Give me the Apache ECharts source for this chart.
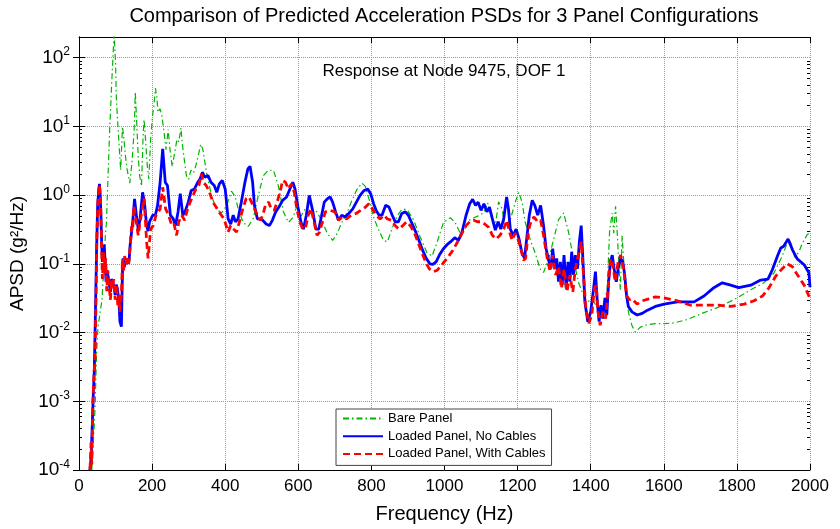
<!DOCTYPE html>
<html>
<head>
<meta charset="utf-8">
<script src="https://cdn.jsdelivr.net/npm/echarts@6/dist/echarts.min.js"></script>
<style>
  html, body { margin: 0; padding: 0; background: #fff; }
  #chart { width: 840px; height: 529px; }
</style>
</head>
<body>
<div id="chart"></div>
<script>
// Bare Panel
const bareFreq = [35, 40, 44, 48, 52, 58, 63, 68, 72, 75, 80, 84, 89, 93, 96, 100, 102, 107, 114, 119, 123, 127, 132, 139, 145, 151, 154, 158, 162, 166, 171, 175, 178, 182, 187, 191, 196, 201, 205, 209, 213, 216, 222, 227, 233, 238, 244, 249, 255, 262, 268, 273, 279, 282, 288, 294, 300, 306, 313, 319, 326, 333, 339, 349, 363, 376, 390, 404, 417, 427, 436, 449, 463, 477, 490, 504, 518, 532, 545, 559, 573, 586, 596, 607, 618, 632, 650, 664, 679, 694, 707, 719, 733, 746, 760, 774, 783, 795, 805, 819, 833, 844, 856, 870, 883, 897, 915, 933, 952, 966, 979, 997, 1016, 1029, 1043, 1057, 1070, 1089, 1107, 1118, 1127, 1139, 1148, 1157, 1166, 1180, 1194, 1203, 1212, 1221, 1235, 1248, 1262, 1271, 1285, 1298, 1312, 1326, 1340, 1353, 1367, 1381, 1390, 1404, 1417, 1431, 1445, 1452, 1459, 1463, 1468, 1472, 1477, 1481, 1486, 1490, 1495, 1504, 1513, 1522, 1536, 1554, 1577, 1601, 1628, 1664, 1710, 1755, 1801, 1838, 1874, 1901, 1924, 1942, 1952, 1958, 1970, 1979, 1993, 2000];
const bareApsd = [1e-4, 3e-4, 8e-4, 0.005, 0.012, 0.02, 0.03, 0.1, 0.25, 0.4, 2.3, 9, 38, 105, 230, 85, 27, 9, 2.3, 10, 6.5, 3.7, 2.3, 1.5, 3, 9, 32, 11, 3.7, 1.9, 1.35, 6.5, 12.6, 6.5, 2.6, 1.7, 6.5, 14, 20, 36, 27, 16, 18, 14, 8, 4.6, 9, 4.6, 2.6, 4.2, 6.5, 6, 9.5, 6, 3.3, 1.9, 1.7, 2.3, 2.1, 2.6, 3.7, 5.5, 4.6, 2.1, 0.96, 0.62, 0.55, 0.7, 1.14, 0.96, 0.62, 0.4, 0.35, 0.46, 0.96, 1.9, 2.3, 2.3, 1.4, 0.58, 0.4, 0.48, 0.69, 0.49, 0.62, 0.55, 0.58, 0.43, 0.28, 0.22, 0.28, 0.4, 0.55, 0.82, 1.2, 1.5, 1.35, 0.82, 0.49, 0.32, 0.22, 0.21, 0.32, 0.49, 0.62, 0.62, 0.44, 0.25, 0.145, 0.13, 0.2, 0.4, 0.47, 0.4, 0.28, 0.33, 0.44, 0.49, 0.55, 0.77, 0.5, 0.36, 0.8, 0.64, 0.36, 0.44, 0.8, 1.1, 0.8, 0.4, 0.22, 0.145, 0.083, 0.075, 0.12, 0.22, 0.44, 0.55, 0.28, 0.115, 0.053, 0.034, 0.028, 0.03, 0.024, 0.019, 0.042, 0.32, 0.55, 0.28, 0.69, 0.32, 0.1, 0.042, 0.26, 0.25, 0.042, 0.019, 0.0126, 0.0102, 0.012, 0.013, 0.0135, 0.0135, 0.0138, 0.0155, 0.0195, 0.024, 0.032, 0.042, 0.053, 0.073, 0.13, 0.23, 0.18, 0.124, 0.15, 0.2, 0.27, 0.28];

// Loaded Panel, No Cables
const noCableFreq = [30, 33, 36, 39, 42, 45, 48, 51, 54, 56, 58, 60, 62, 64, 67, 69, 72, 74, 77, 79, 83, 86, 89, 92, 96, 99, 102, 105, 109, 112, 116, 119, 121, 124, 127, 131, 134, 137, 140, 144, 147, 152, 157, 162, 167, 174, 179, 185, 189, 193, 202, 209, 215, 222, 229, 236, 242, 250, 258, 264, 271, 277, 284, 290, 299, 307, 316, 325, 331, 338, 344, 353, 361, 370, 377, 384, 392, 400, 408, 415, 422, 428, 435, 444, 454, 462, 468, 475, 480, 488, 496, 503, 512, 521, 529, 538, 547, 557, 568, 577, 585, 591, 599, 607, 614, 622, 630, 635, 640, 648, 656, 663, 671, 679, 687, 694, 702, 710, 719, 728, 738, 749, 759, 769, 780, 790, 798, 806, 813, 821, 829, 839, 848, 857, 865, 874, 883, 893, 901, 909, 919, 930, 940, 950, 960, 968, 977, 986, 997, 1007, 1017, 1028, 1038, 1048, 1059, 1069, 1077, 1085, 1092, 1100, 1108, 1116, 1123, 1131, 1139, 1147, 1154, 1162, 1170, 1175, 1180, 1188, 1196, 1204, 1211, 1219, 1224, 1232, 1240, 1247, 1255, 1263, 1271, 1278, 1286, 1291, 1296, 1302, 1307, 1312, 1317, 1322, 1327, 1333, 1338, 1343, 1348, 1353, 1358, 1364, 1369, 1374, 1379, 1384, 1392, 1400, 1408, 1413, 1418, 1423, 1428, 1433, 1439, 1444, 1449, 1454, 1459, 1464, 1470, 1475, 1482, 1488, 1493, 1498, 1503, 1513, 1527, 1541, 1554, 1577, 1601, 1637, 1683, 1710, 1737, 1760, 1783, 1805, 1838, 1865, 1885, 1897, 1911, 1920, 1928, 1940, 1952, 1965, 1984, 1997, 2000];
const noCableApsd = [1e-4, 1.5e-4, 4e-4, 1.2e-3, 3e-3, 0.02, 0.15, 0.7, 1.2, 1.46, 1.0, 0.51, 0.2, 0.107, 0.16, 0.19, 0.09, 0.055, 0.08, 0.069, 0.05, 0.039, 0.06, 0.055, 0.045, 0.035, 0.05, 0.044, 0.03, 0.0144, 0.0122, 0.08, 0.12, 0.09, 0.107, 0.1, 0.12, 0.11, 0.19, 0.3, 0.41, 0.88, 0.51, 0.32, 0.45, 1.1, 0.79, 0.36, 0.3, 0.41, 0.51, 0.51, 0.71, 1.54, 4.7, 1.54, 1.38, 0.51, 0.45, 0.36, 0.57, 1.05, 0.51, 0.57, 0.79, 1.17, 1.23, 1.54, 1.72, 2.15, 1.82, 1.93, 1.54, 1.38, 1.1, 1.46, 1.63, 1.23, 0.45, 0.38, 0.51, 0.41, 0.45, 0.79, 1.54, 2.4, 2.63, 1.54, 0.71, 0.45, 0.45, 0.43, 0.38, 0.36, 0.43, 0.57, 0.67, 0.84, 0.94, 1.23, 1.54, 1.23, 0.67, 0.41, 0.32, 0.51, 0.99, 1.05, 0.57, 0.32, 0.32, 0.48, 0.79, 0.88, 0.94, 0.79, 0.57, 0.43, 0.51, 0.48, 0.54, 0.63, 0.79, 0.99, 1.17, 1.23, 1.05, 0.75, 0.6, 0.51, 0.51, 0.71, 0.67, 0.51, 0.41, 0.41, 0.54, 0.57, 0.51, 0.41, 0.31, 0.22, 0.158, 0.12, 0.1, 0.098, 0.107, 0.134, 0.166, 0.19, 0.21, 0.24, 0.22, 0.29, 0.51, 0.75, 0.87, 0.71, 0.79, 0.6, 0.75, 0.57, 0.67, 0.45, 0.31, 0.41, 0.32, 0.45, 0.94, 0.63, 0.32, 0.26, 0.32, 0.23, 0.15, 0.12, 0.21, 0.51, 0.84, 0.71, 0.51, 0.71, 0.36, 0.166, 0.107, 0.085, 0.166, 0.085, 0.12, 0.055, 0.107, 0.049, 0.134, 0.044, 0.107, 0.055, 0.15, 0.069, 0.134, 0.085, 0.21, 0.36, 0.107, 0.028, 0.0144, 0.02, 0.044, 0.077, 0.028, 0.0144, 0.025, 0.016, 0.032, 0.018, 0.055, 0.107, 0.134, 0.085, 0.055, 0.085, 0.12, 0.107, 0.069, 0.035, 0.024, 0.02, 0.018, 0.019, 0.021, 0.024, 0.026, 0.028, 0.028, 0.034, 0.045, 0.053, 0.049, 0.045, 0.049, 0.058, 0.06, 0.082, 0.13, 0.17, 0.18, 0.23, 0.16, 0.118, 0.097, 0.074, 0.046];

// Loaded Panel, With Cables
const withCableFreq = [30, 33, 35, 38, 41, 44, 46, 49, 52, 56, 59, 61, 64, 67, 70, 73, 76, 79, 82, 86, 89, 92, 95, 99, 103, 106, 109, 112, 116, 119, 122, 125, 128, 132, 136, 140, 144, 147, 150, 154, 162, 170, 178, 182, 185, 189, 196, 203, 211, 222, 229, 237, 245, 254, 260, 267, 273, 281, 289, 297, 304, 312, 320, 328, 335, 340, 348, 357, 367, 377, 385, 397, 408, 415, 423, 431, 439, 448, 457, 465, 472, 480, 488, 496, 503, 511, 519, 526, 534, 542, 550, 557, 565, 573, 581, 589, 596, 604, 612, 620, 627, 635, 643, 651, 658, 666, 674, 687, 700, 710, 720, 732, 745, 758, 771, 784, 793, 803, 813, 824, 834, 844, 855, 865, 875, 886, 896, 906, 917, 927, 937, 948, 958, 968, 979, 989, 999, 1010, 1023, 1036, 1048, 1059, 1069, 1080, 1090, 1100, 1110, 1121, 1131, 1141, 1152, 1162, 1170, 1178, 1185, 1193, 1201, 1209, 1216, 1222, 1229, 1237, 1245, 1255, 1263, 1271, 1281, 1289, 1296, 1304, 1312, 1320, 1327, 1335, 1343, 1351, 1358, 1366, 1374, 1379, 1387, 1395, 1403, 1410, 1415, 1420, 1426, 1433, 1441, 1446, 1454, 1459, 1467, 1475, 1482, 1490, 1498, 1506, 1513, 1527, 1541, 1559, 1577, 1601, 1637, 1673, 1710, 1750, 1783, 1820, 1847, 1870, 1888, 1906, 1924, 1938, 1952, 1965, 1984, 1997, 2000];
const withCableApsd = [1e-4, 2.5e-4, 1.2e-4, 1e-3, 2.5e-3, 4e-3, 0.02, 0.25, 0.9, 1.4, 0.8, 0.3, 0.06, 0.15, 0.07, 0.12, 0.04, 0.08, 0.05, 0.03, 0.06, 0.045, 0.06, 0.03, 0.05, 0.025, 0.035, 0.02, 0.035, 0.12, 0.08, 0.13, 0.1, 0.12, 0.1, 0.18, 0.35, 0.32, 0.7, 0.51, 0.26, 0.51, 0.9, 0.4, 0.21, 0.12, 0.32, 0.36, 0.51, 0.63, 1.3, 0.63, 0.51, 0.36, 0.38, 0.26, 0.41, 0.51, 0.43, 0.63, 0.79, 0.99, 1.23, 1.38, 2.04, 1.54, 1.38, 1.1, 0.78, 0.65, 0.55, 0.45, 0.29, 0.36, 0.32, 0.29, 0.41, 0.63, 0.88, 0.94, 0.79, 0.63, 0.51, 0.43, 0.51, 0.75, 0.79, 0.63, 0.6, 0.79, 1.1, 1.63, 1.54, 1.23, 1.46, 1.1, 0.63, 0.41, 0.32, 0.34, 0.51, 0.63, 0.41, 0.26, 0.29, 0.41, 0.57, 0.6, 0.57, 0.43, 0.48, 0.45, 0.51, 0.54, 0.6, 0.67, 0.75, 0.63, 0.51, 0.45, 0.51, 0.45, 0.43, 0.36, 0.32, 0.36, 0.41, 0.36, 0.29, 0.21, 0.15, 0.107, 0.085, 0.077, 0.08, 0.091, 0.107, 0.126, 0.158, 0.21, 0.28, 0.36, 0.41, 0.43, 0.41, 0.41, 0.38, 0.34, 0.26, 0.23, 0.26, 0.32, 0.43, 0.29, 0.22, 0.28, 0.23, 0.166, 0.113, 0.12, 0.29, 0.43, 0.48, 0.41, 0.43, 0.26, 0.12, 0.077, 0.134, 0.069, 0.091, 0.044, 0.085, 0.039, 0.069, 0.039, 0.085, 0.134, 0.21, 0.085, 0.022, 0.0137, 0.018, 0.044, 0.049, 0.02, 0.0128, 0.02, 0.016, 0.035, 0.12, 0.107, 0.055, 0.107, 0.134, 0.085, 0.035, 0.03, 0.031, 0.026, 0.029, 0.031, 0.033, 0.032, 0.029, 0.025, 0.025, 0.025, 0.024, 0.026, 0.029, 0.034, 0.045, 0.066, 0.085, 0.1, 0.091, 0.07, 0.049, 0.034, 0.03];

const xTicks = [0, 200, 400, 600, 800, 1000, 1200, 1400, 1600, 1800, 2000];
const yMajor = [1e-4, 1e-3, 1e-2, 1e-1, 1, 10, 100];
const yMinor = [];
yMajor.forEach(function (d) {
    [2, 3, 4, 5, 6, 7, 8, 9].forEach(function (m) {
        if (d * m <= 200) yMinor.push(d * m);
    });
});

const FONT = '"Liberation Sans", Arial, sans-serif';

function pairs(xs, ys) {
    return xs.map(function (x, i) { return [x, ys[i]]; });
}

let chart = echarts.init(document.getElementById('chart'));

let yBase = {
    type: 'log',
    logBase: 10,
    min: 1e-4,
    max: 200,
    splitNumber: 7
};

chart.setOption({
    animation: false,
    backgroundColor: '#fff',
    grid: { left: 79, right: 30, top: 37, bottom: 59, show: false },
    graphic: [
        {
            type: 'text', x: 444, y: 16,
            style: {
                text: 'Comparison of Predicted Acceleration PSDs for 3 Panel Configurations',
                font: '20px ' + FONT, fill: '#000',
                textAlign: 'center', textVerticalAlign: 'middle'
            }
        },
        {
            type: 'text', x: 444, y: 71,
            style: {
                text: 'Response at Node 9475, DOF 1',
                font: '17px ' + FONT, fill: '#000',
                textAlign: 'center', textVerticalAlign: 'middle'
            }
        }
    ],
    legend: {
        orient: 'vertical',
        left: 336,
        top: 409,
        padding: [3, 6, 5, 6],
        itemWidth: 40,
        itemHeight: 14,
        itemGap: 4.7,
        backgroundColor: '#fff',
        borderColor: '#444',
        borderWidth: 1,
        borderRadius: 0,
        itemStyle: { opacity: 0 },
        textStyle: { fontSize: 13, color: '#000', fontFamily: FONT },
        data: ['Bare Panel', 'Loaded Panel, No Cables', 'Loaded Panel, With Cables']
    },
    xAxis: [
        {
            type: 'value', min: 0, max: 2000, interval: 200,
            position: 'bottom',
            name: 'Frequency (Hz)',
            nameLocation: 'middle',
            nameGap: 34,
            nameTextStyle: { fontSize: 20, color: '#000', fontFamily: FONT },
            axisLine: { show: true, lineStyle: { color: '#000', width: 1 } },
            axisTick: { show: true, inside: true, length: 6, lineStyle: { color: '#000' } },
            axisLabel: {
                fontSize: 17, color: '#000', fontFamily: FONT, margin: 8,
                customValues: xTicks,
                formatter: function (v) { return String(v); }
            },
            splitLine: { show: true, lineStyle: { type: 'dotted', color: '#9a9a9a', width: 1 } }
        },
        {
            type: 'value', min: 0, max: 2000, interval: 200,
            position: 'top',
            axisLine: { show: true, lineStyle: { color: '#000', width: 1 } },
            axisTick: { show: true, inside: true, length: 6, lineStyle: { color: '#000' } },
            axisLabel: { show: false },
            splitLine: { show: false }
        }
    ],
    yAxis: [
        Object.assign({}, yBase, {
            position: 'left',
            name: 'APSD (g²/Hz)',
            nameLocation: 'middle',
            nameGap: 45,
            nameRotate: 90,
            nameTextStyle: { fontSize: 19, color: '#000', fontFamily: FONT },
            axisLine: { show: true, lineStyle: { color: '#000', width: 1 } },
            axisTick: { show: true, inside: true, length: 6, customValues: yMajor, lineStyle: { color: '#000' } },
            axisLabel: {
                customValues: yMajor,
                margin: 9,
                formatter: function (v) {
                    let e = Math.round(Math.log10(v));
                    if (Math.abs(Math.log10(v) - e) > 1e-6) return '';
                    return '{b|10}{s|' + e + '}';
                },
                rich: {
                    b: { fontSize: 19, color: '#000', fontFamily: FONT },
                    s: { fontSize: 12, color: '#000', fontFamily: FONT, padding: [0, 0, 11, 0] }
                }
            },
            splitLine: { show: true, lineStyle: { type: 'dotted', color: '#9a9a9a', width: 1 } }
        }),
        Object.assign({}, yBase, {
            position: 'right',
            axisLine: { show: true, lineStyle: { color: '#000', width: 1 } },
            axisTick: { show: true, inside: true, length: 6, customValues: yMajor, lineStyle: { color: '#000' } },
            axisLabel: { show: false },
            splitLine: { show: false }
        }),
        Object.assign({}, yBase, {
            position: 'left',
            axisLine: { show: false },
            axisTick: { show: true, inside: true, length: 3, customValues: yMinor, lineStyle: { color: '#000' } },
            axisLabel: { show: false },
            splitLine: { show: false }
        }),
        Object.assign({}, yBase, {
            position: 'right',
            axisLine: { show: false },
            axisTick: { show: true, inside: true, length: 3, customValues: yMinor, lineStyle: { color: '#000' } },
            axisLabel: { show: false },
            splitLine: { show: false }
        })
    ],
    series: [
        {
            name: 'Bare Panel',
            type: 'line',
            data: pairs(bareFreq, bareApsd),
            symbol: 'none',
            color: '#00b400',
            lineStyle: { color: '#00b400', width: 1.2, type: [6, 3, 1.5, 3] },
            z: 2
        },
        {
            name: 'Loaded Panel, No Cables',
            type: 'line',
            data: pairs(noCableFreq, noCableApsd),
            symbol: 'none',
            color: '#0000ff',
            lineStyle: { color: '#0000ff', width: 2.8, type: 'solid' },
            z: 3
        },
        {
            name: 'Loaded Panel, With Cables',
            type: 'line',
            data: pairs(withCableFreq, withCableApsd),
            symbol: 'none',
            color: '#ff0000',
            lineStyle: { color: '#ff0000', width: 2.8, type: [7, 4] },
            z: 4
        }
    ]
});

window.addEventListener('resize', function () {
    chart.resize();
});
</script>
</body>
</html>
